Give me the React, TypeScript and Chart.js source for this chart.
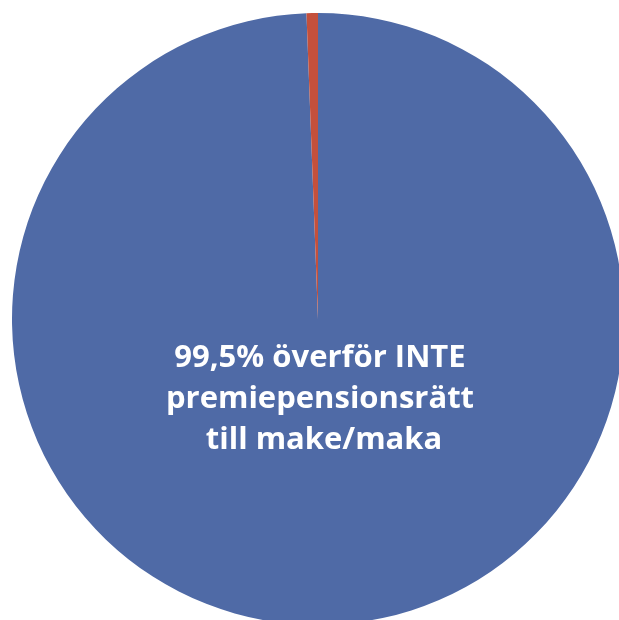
import React, { useEffect, useRef } from "react";
import { Chart, registerables } from "chart.js";

Chart.register(...registerables);

const categories = ["Överför INTE premiepensionsrätt till make/maka", "Överför premiepensionsrätt till make/maka"];
const values = [99.4, 0.6];
const colors = ["#4F6AA6", "#C4503C"];
const labelLines = ["99,5% överför INTE", "premiepensionsrätt", " till make/maka"];

export default function App() {
  const ref = useRef<HTMLCanvasElement | null>(null);
  useEffect(() => {
    if (!ref.current) return;
    const chart = new Chart(ref.current, {
      type: "pie",
      data: {
        labels: categories,
        datasets: [{ data: values, backgroundColor: colors, borderWidth: 0 }],
      },
      options: {
        animation: false,
        responsive: false,
        maintainAspectRatio: false,
        layout: { padding: 0 },
        plugins: { legend: { display: false }, tooltip: { enabled: false } },
      },
    });
    return () => chart.destroy();
  }, []);
  return (
    <div style={{ position: "fixed", left: 0, top: 0, width: 619, height: 620, overflow: "hidden", background: "#fff" }}>
      <canvas ref={ref} width={612} height={612} style={{ position: "absolute", left: 12, top: 13, width: 612, height: 612 }} />
      <div
        style={{
          position: "absolute",
          left: 120,
          top: 335,
          width: 400,
          textAlign: "center",
          color: "#fff",
          fontFamily: "'Open Sans', sans-serif",
          fontWeight: 700,
          fontSize: 31,
          lineHeight: "41px",
          whiteSpace: "pre",
        }}
      >
        {labelLines.map((l, i) => (
          <div key={i}>{l}</div>
        ))}
      </div>
    </div>
  );
}
